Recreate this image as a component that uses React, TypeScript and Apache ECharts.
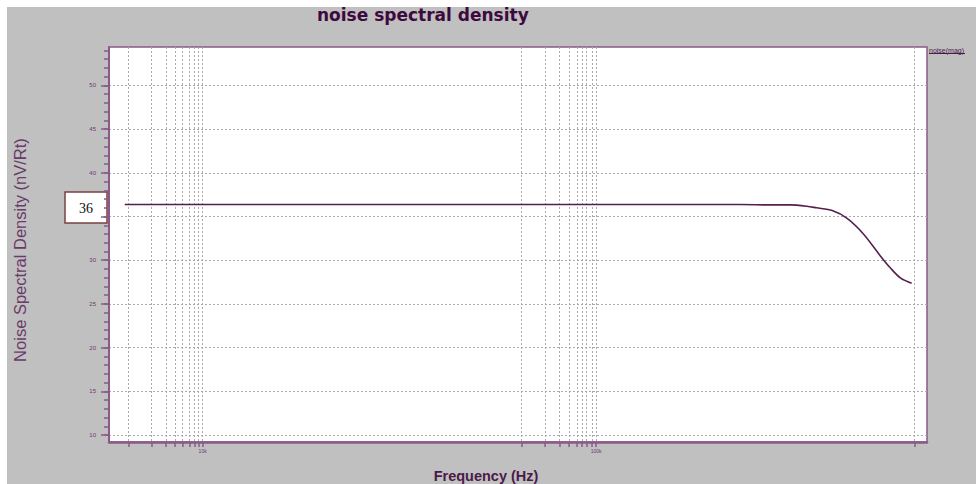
import { useEffect, useRef } from "react";
import * as echarts from "echarts";

// Frequency positions are in decades (log10 of Hz); values in nV/√Hz.
const freqDecades = [3.802, 5.366, 5.443, 5.493, 5.536, 5.56, 5.6, 5.638, 5.68, 5.723, 5.748, 5.774, 5.802];
const noiseDensity = [36.37, 36.37, 36.33, 36.33, 36.18, 36.0, 35.68, 34.79, 32.98, 30.46, 29.11, 27.95, 27.37];

// Vertical grid / tick positions along the frequency axis (decades)
const freqGrid = [
  3.811, 3.87, 3.907, 3.93, 3.949, 3.966, 3.979, 3.99, 4,
  4.811, 4.87, 4.907, 4.931, 4.951, 4.964, 4.976, 4.989, 5,
  5.809,
];
const freqLabelValues = [4, 5];
const freqLabelText = ["10k", "100k"];

const densityMajor = [10, 15, 20, 25, 30, 35, 40, 45, 50];
// the 35 label sits under the level marker box, so it is not printed
const densityLabelValues = [10, 15, 20, 25, 30, 40, 45, 50];
const densityMinor = [
  10, 11, 12, 13, 14, 15, 16, 17, 18, 19, 20, 21, 22, 23, 24, 25, 26, 27, 28, 29,
  30, 31, 32, 33, 34, 35, 36, 37, 38, 39, 40, 41, 42, 43, 44, 45, 46, 47, 48, 49,
  50, 51, 52, 53, 54,
];

const FRAME = "#8a5a8a";
const GRID = "#a9a9a9";
const TRACE = "#55204f";

export default function App() {
  const ref = useRef<HTMLDivElement>(null);

  useEffect(() => {
    document.body.style.margin = "0";
    if (!ref.current) return;
    const chart = echarts.init(ref.current, null, { renderer: "svg" });

    const flatLevel = noiseDensity[0];

    chart.setOption({
      animation: false,
      backgroundColor: "#c0c0c0",
      title: {
        text: "noise spectral density",
        left: 317,
        top: 6,
        padding: 0,
        textStyle: {
          fontFamily: "DejaVu Sans",
          fontWeight: "bold",
          fontSize: 17,
          color: "#3d0a3d",
        },
      },
      grid: {
        left: 109,
        top: 47,
        right: 49,
        bottom: 42,
        show: true,
        backgroundColor: "#ffffff",
        borderColor: FRAME,
        borderWidth: 1.5,
      },
      xAxis: {
        type: "value",
        min: 3.762,
        max: 5.841,
        axisLine: { onZero: false, lineStyle: { color: FRAME, width: 2.5 } },
        axisTick: {
          customValues: freqGrid,
          length: 5,
          lineStyle: { color: FRAME, width: 1.5 },
        },
        axisLabel: {
          customValues: freqLabelValues,
          formatter: (v: number) => {
            const i = freqLabelValues.findIndex((d) => Math.abs(d - v) < 1e-6);
            return i >= 0 ? freqLabelText[i] : "";
          },
          fontSize: 5,
          color: "#6a3a6a",
          margin: 6,
          fontFamily: "Liberation Sans",
        },
        splitLine: {
          show: true,
          lineStyle: { color: GRID, width: 1, type: [2, 2] },
        },
      },
      yAxis: [
        {
          type: "value",
          min: 9.2,
          max: 54.4,
          axisLine: { show: true, onZero: false, lineStyle: { color: FRAME, width: 2 } },
          axisTick: {
            customValues: densityMajor,
            length: 8,
            lineStyle: { color: FRAME, width: 1.5 },
          },
          axisLabel: {
            customValues: densityLabelValues,
            fontSize: 6,
            color: "#6a3a6a",
            margin: 13,
            fontFamily: "Liberation Sans",
          },
          splitLine: {
            show: true,
            lineStyle: { color: GRID, width: 1, type: [2, 2] },
          },
        },
        {
          type: "value",
          min: 9.2,
          max: 54.4,
          position: "left",
          axisLine: { show: false },
          axisTick: {
            show: true,
            customValues: densityMinor,
            length: 5,
            lineStyle: { color: FRAME, width: 1.5 },
          },
          axisLabel: { show: false },
          splitLine: { show: false },
        },
      ],
      series: [
        {
          type: "line",
          data: freqDecades.map((f, i) => [f, noiseDensity[i]]),
          showSymbol: false,
          smooth: 0.3,
          lineStyle: { color: TRACE, width: 1.6 },
          z: 5,
        },
      ],
      graphic: [
        { type: "rect", shape: { x: 0, y: 0, width: 976, height: 7 }, style: { fill: "#ffffff" } },
        { type: "rect", shape: { x: 0, y: 0, width: 7, height: 484 }, style: { fill: "#ffffff" } },
        {
          type: "text",
          x: 20,
          y: 250,
          rotation: Math.PI / 2,
          style: {
            text: "Noise Spectral Density (nV/Rt)",
            fontFamily: "Liberation Sans",
            fontSize: 16.5,
            fill: "#6a3a6a",
            align: "center",
            verticalAlign: "middle",
          },
        },
        {
          type: "text",
          x: 486,
          y: 476,
          style: {
            text: "Frequency (Hz)",
            fontFamily: "Liberation Sans",
            fontWeight: "bold",
            fontSize: 14.5,
            fill: "#4a1a4a",
            align: "center",
            verticalAlign: "middle",
          },
        },
        {
          type: "text",
          x: 929,
          y: 50,
          style: {
            text: "noise(mag)",
            fontFamily: "Liberation Sans",
            fontSize: 7,
            fill: "#4a1a4a",
            align: "left",
            verticalAlign: "middle",
          },
        },
        {
          type: "line",
          shape: { x1: 929, y1: 53.5, x2: 965, y2: 53.5 },
          style: { stroke: "#4a1a4a", lineWidth: 1.2 },
        },
        {
          type: "rect",
          shape: { x: 65, y: 192, width: 42, height: 31 },
          style: { fill: "#ffffff", stroke: "#7a4040", lineWidth: 1.5 },
        },
        {
          type: "text",
          x: 86,
          y: 208,
          style: {
            text: String(Math.round(flatLevel)),
            fontFamily: "Liberation Serif",
            fontSize: 14,
            fill: "#111111",
            align: "center",
            verticalAlign: "middle",
          },
        },
      ],
    });

    return () => chart.dispose();
  }, []);

  return <div ref={ref} style={{ width: 976, height: 484 }} />;
}
